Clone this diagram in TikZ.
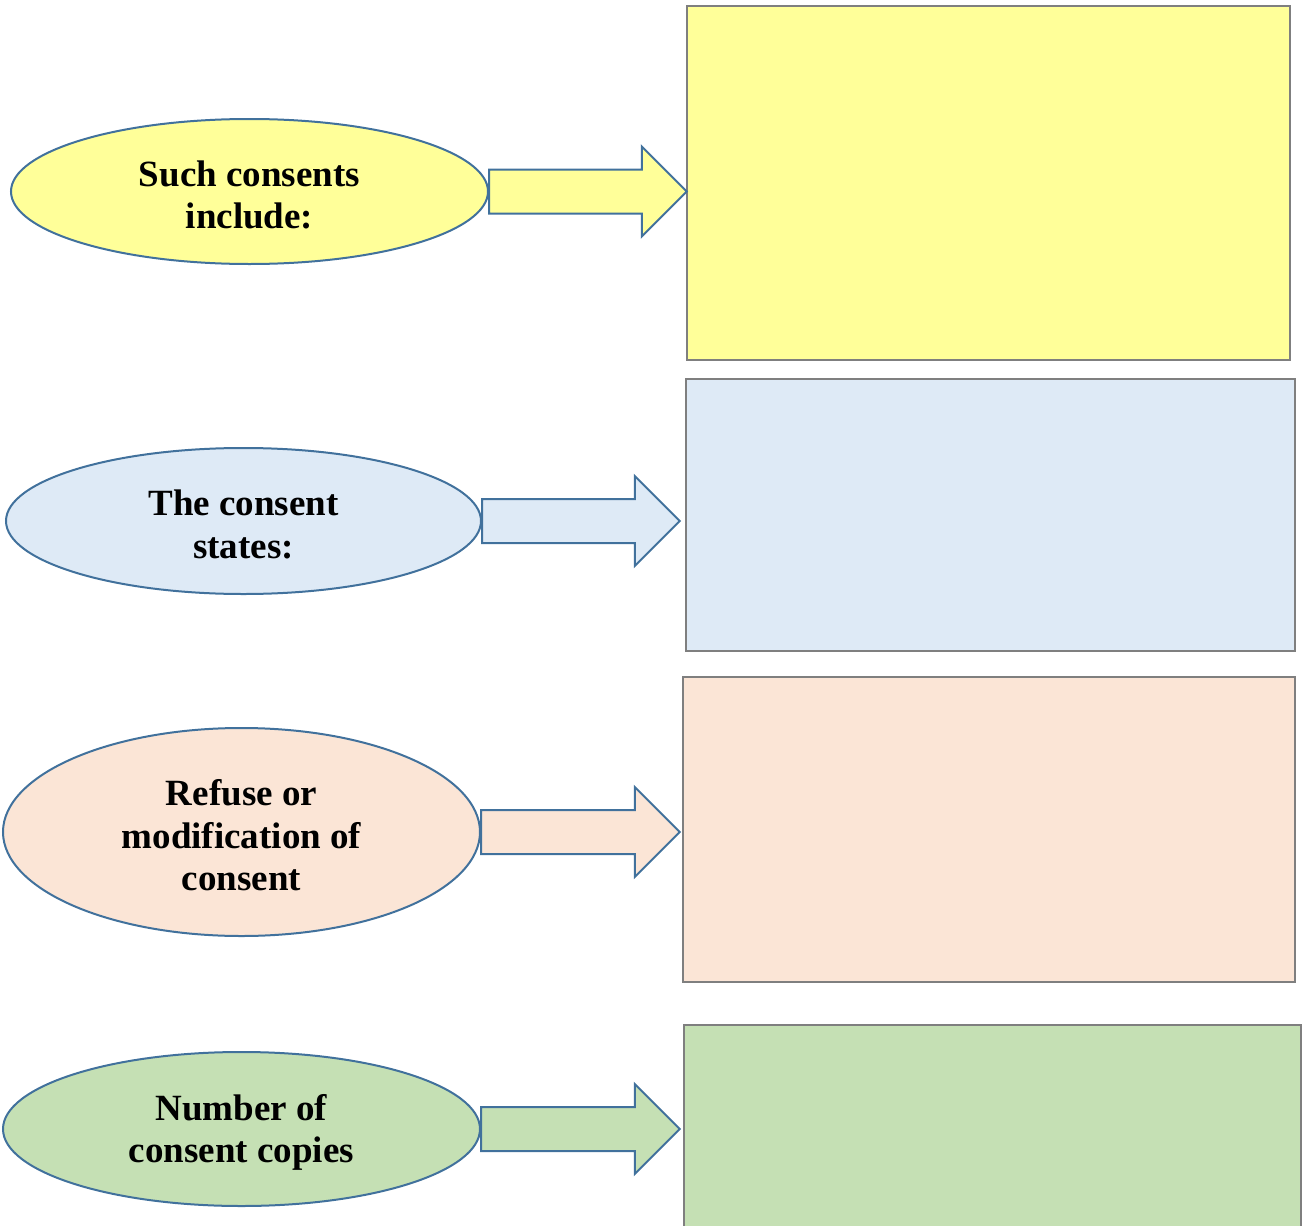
\documentclass[tikz,border=0pt]{standalone}
\usepackage{fontspec}
\setmainfont{Liberation Serif}
\usetikzlibrary{shapes.geometric,calc}
\definecolor{ylw}{HTML}{FFFF99}
\definecolor{blu}{HTML}{DEEAF6}
\definecolor{pch}{HTML}{FBE5D6}
\definecolor{grn}{HTML}{C5E0B4}
\definecolor{edgeblue}{HTML}{41719C}
\definecolor{edgegray}{HTML}{7F7F7F}
% #1 ellipse, #2 box, #3 fill, #4 gap between tip and box
\newcommand{\blockarr}[4]{%
  \draw[blockarrow,fill=#3] let \p1=(#1.east), \p2=(#2.west) in
    (\x1,\y1+22) -- (\x2-#4-45,\y1+22) -- (\x2-#4-45,\y1+45) -- (\x2-#4,\y1)
    -- (\x2-#4-45,\y1-45) -- (\x2-#4-45,\y1-22) -- (\x1,\y1-22) -- cycle;}
\begin{document}
\begin{tikzpicture}[x=1pt,y=-1pt,
  oval/.style={ellipse,draw=edgeblue,line width=2pt,inner sep=0pt},
  lbl/.style={align=center,inner sep=0pt,yshift=-3.5pt,
    font=\fontsize{37}{42.5}\selectfont\bfseries},
  panel/.style={rectangle,draw=edgegray,line width=2.5pt,inner sep=0pt},
  blockarrow/.style={draw=edgeblue,line width=2pt,line join=miter}]
\useasboundingbox (0,0) rectangle (1302,1226);
% boxes
\node[panel,fill=ylw,minimum width=603pt,minimum height=354pt] (b1) at (988.5,183) {};
\node[panel,fill=blu,minimum width=609pt,minimum height=272pt] (b2) at (990.5,515) {};
\node[panel,fill=pch,minimum width=612pt,minimum height=305pt] (b3) at (989,829.5) {};
\node[panel,fill=grn,minimum width=617pt,minimum height=230pt] (b4) at (992.5,1140) {};
% ellipses
\node[oval,fill=ylw,minimum width=477pt,minimum height=145pt,
  label={[lbl]center:Such consents\\include:}] (e1) at (249.5,191.5) {};
\node[oval,fill=blu,minimum width=475pt,minimum height=146pt,
  label={[lbl]center:The consent\\states:}] (e2) at (243.5,521) {};
\node[oval,fill=pch,minimum width=477pt,minimum height=208pt,
  label={[lbl]center:Refuse or\\modification of\\consent}] (e3) at (241.5,832) {};
\node[oval,fill=grn,minimum width=477pt,minimum height=154pt,
  label={[lbl]center:Number of\\consent copies}] (e4) at (241.5,1129) {};
% arrows
\blockarr{e1}{b1}{ylw}{-1}
\blockarr{e2}{b2}{blu}{5}
\blockarr{e3}{b3}{pch}{2}
\blockarr{e4}{b4}{grn}{3}
\end{tikzpicture}
\end{document}
